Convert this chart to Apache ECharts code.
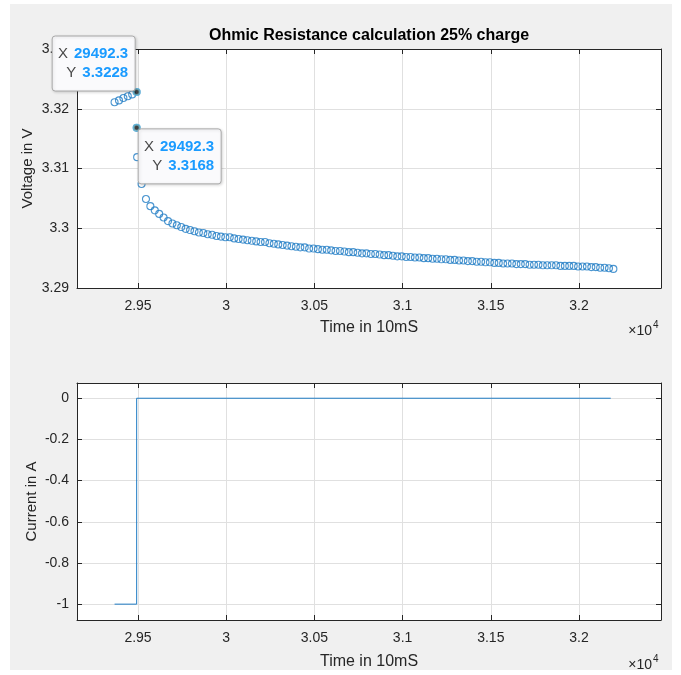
<!DOCTYPE html>
<html><head><meta charset="utf-8">
<script src="https://cdn.jsdelivr.net/npm/echarts@6/dist/echarts.min.js"></script>
<style>html,body{margin:0;padding:0;background:#fff}#c{width:681px;height:675px}</style>
</head><body><div id="c"></div>
<script>
// ---- data ----
const preTime = [29367, 29392, 29417, 29442, 29467, 29492.3];
const preVoltage = [3.3211, 3.3214, 3.3218, 3.3221, 3.3224, 3.3228];
const postTime = [29492.3,
  29495, 29520, 29545, 29570, 29595, 29620, 29645, 29670, 29695, 29720,
  29745, 29770, 29795, 29820, 29845, 29870, 29895, 29920, 29945, 29970,
  29995, 30020, 30045, 30070, 30095, 30120, 30145, 30170, 30195, 30220,
  30245, 30270, 30295, 30320, 30345, 30370, 30395, 30420, 30445, 30470,
  30495, 30520, 30545, 30570, 30595, 30620, 30645, 30670, 30695, 30720,
  30745, 30770, 30795, 30820, 30845, 30870, 30895, 30920, 30945, 30970,
  30995, 31020, 31045, 31070, 31095, 31120, 31145, 31170, 31195, 31220,
  31245, 31270, 31295, 31320, 31345, 31370, 31395, 31420, 31445, 31470,
  31495, 31520, 31545, 31570, 31595, 31620, 31645, 31670, 31695, 31720,
  31745, 31770, 31795, 31820, 31845, 31870, 31895, 31920, 31945, 31970,
  31995, 32020, 32045, 32070, 32095, 32120, 32145, 32170, 32195];
const postVoltage = [3.3168,
  3.3119, 3.3074, 3.3049, 3.3037, 3.3030, 3.3024, 3.3018, 3.3012, 3.3008, 3.3005,
  3.3002, 3.2999, 3.2997, 3.2995, 3.2993, 3.2992, 3.2990, 3.2989, 3.2987, 3.2986,
  3.2985, 3.2985, 3.2983, 3.2982, 3.2981, 3.2980, 3.2979, 3.2978, 3.2977, 3.2977,
  3.2975, 3.2974, 3.2973, 3.2972, 3.2971, 3.2970, 3.2969, 3.2968, 3.2968, 3.2966,
  3.2966, 3.2965, 3.2964, 3.2964, 3.2963, 3.2962, 3.2962, 3.2961, 3.2960, 3.2960,
  3.2959, 3.2958, 3.2958, 3.2957, 3.2957, 3.2956, 3.2955, 3.2955, 3.2954, 3.2953,
  3.2953, 3.2952, 3.2952, 3.2951, 3.2951, 3.2950, 3.2950, 3.2949, 3.2949, 3.2948,
  3.2948, 3.2947, 3.2947, 3.2946, 3.2946, 3.2945, 3.2945, 3.2944, 3.2944, 3.2943,
  3.2943, 3.2942, 3.2942, 3.2941, 3.2941, 3.2941, 3.2940, 3.2940, 3.2940, 3.2939,
  3.2939, 3.2939, 3.2938, 3.2938, 3.2938, 3.2938, 3.2937, 3.2937, 3.2937, 3.2937,
  3.2936, 3.2936, 3.2936, 3.2935, 3.2935, 3.2934, 3.2934, 3.2933, 3.2932];
const currentTime = [29367, 29492.3, 29492.3, 32180];
const currentValue = [-1, -1, 0, 0];
const titleText = 'Ohmic Resistance calculation 25% charge';
const xName = 'Time in 10mS';
const yNameTop = 'Voltage in V';
const yNameBottom = 'Current in A';

// ---- chart ----
const FONT = "'Liberation Sans', Arial, Helvetica, sans-serif";
const AX = '#262626';
const BLUE = '#1f7cc4';
const chart = echarts.init(document.getElementById('c'), null, {renderer: 'canvas'});

const voltagePts = [];
preTime.forEach((t, i) => voltagePts.push([t, preVoltage[i]]));
postTime.forEach((t, i) => voltagePts.push([t, postVoltage[i]]));
const currentPts = currentTime.map((t, i) => [t, currentValue[i]]);
const tipA = [preTime[preTime.length - 1], preVoltage[preVoltage.length - 1]];
const tipB = [postTime[0], postVoltage[0]];

const X_MIN = 29154, X_MAX = 32465;

function xAxis(gi, pos, main, nameGap) {
  return {
    type: 'value', gridIndex: gi, position: pos, min: X_MIN, max: X_MAX,
    name: main ? xName : '', nameLocation: 'middle', nameGap: nameGap,
    nameTextStyle: {color: AX, fontSize: 16, fontFamily: FONT},
    axisLine: {show: true, onZero: false, lineStyle: {color: AX, width: 1}},
    axisTick: {show: true, inside: true, length: 5, lineStyle: {color: AX}},
    axisLabel: {show: main, color: AX, fontSize: 14, fontFamily: FONT, margin: 11,
      showMinLabel: false, showMaxLabel: false,
      formatter: v => String(+(v / 1e4).toFixed(4))},
    splitLine: {show: main, lineStyle: {color: '#e0e0e0', width: 1}}
  };
}
function yAxis(gi, pos, main, opts) {
  return Object.assign({
    type: 'value', gridIndex: gi, position: pos,
    nameLocation: 'middle', nameRotate: 90, nameMoveOverlap: false,
    nameTextStyle: {color: AX, fontSize: 15, fontFamily: FONT},
    axisLine: {show: true, onZero: false, lineStyle: {color: AX, width: 1}},
    axisTick: {show: true, inside: true, length: 5, lineStyle: {color: AX}},
    axisLabel: {show: main, color: AX, fontSize: 14, fontFamily: FONT, margin: 8,
      showMinLabel: opts.showMinLabel, showMaxLabel: opts.showMaxLabel,
      formatter: v => String(+v.toFixed(2))},
    splitLine: {show: main, lineStyle: {color: '#e0e0e0', width: 1}}
  }, opts.extra);
}

chart.setOption({
  animation: false,
  backgroundColor: '#ffffff',
  title: {text: titleText, left: 369, top: 28, textAlign: 'center', padding: 0,
    textStyle: {color: '#000', fontSize: 16, fontWeight: 'bold', fontFamily: FONT}},
  grid: [
    {left: 77, top: 49, width: 584, height: 239, show: true, backgroundColor: '#fff', borderWidth: 0},
    {left: 77, top: 383, width: 584, height: 237, show: true, backgroundColor: '#fff', borderWidth: 0}
  ],
  xAxis: [
    xAxis(0, 'bottom', true, 32),
    xAxis(0, 'top', false, 0),
    xAxis(1, 'bottom', true, 34),
    xAxis(1, 'top', false, 0)
  ],
  yAxis: [
    yAxis(0, 'left', true, {showMinLabel: true, showMaxLabel: true,
      extra: {min: 3.29, max: 3.33, interval: 0.01, name: yNameTop, nameGap: 42}}),
    yAxis(0, 'right', false, {extra: {min: 3.29, max: 3.33, interval: 0.01}}),
    yAxis(1, 'left', true, {showMinLabel: false, showMaxLabel: false,
      extra: {min: -1.077, max: 0.074, name: yNameBottom, nameGap: 38}}),
    yAxis(1, 'right', false, {extra: {min: -1.077, max: 0.074}})
  ],
  series: [
    {type: 'scatter', xAxisIndex: 0, yAxisIndex: 0, data: voltagePts,
      symbol: 'circle', symbolSize: 7,
      itemStyle: {color: 'rgba(0,0,0,0)', borderColor: BLUE, borderWidth: 1.1},
      emphasis: {disabled: true}, silent: true},
    {type: 'scatter', xAxisIndex: 0, yAxisIndex: 0, data: [tipA, tipB],
      symbol: 'circle', symbolSize: 6, z: 5,
      itemStyle: {color: '#111', borderColor: 'rgba(120,205,225,0.75)', borderWidth: 2},
      silent: true},
    {type: 'line', xAxisIndex: 2, yAxisIndex: 2, data: currentPts,
      showSymbol: false, symbol: 'none',
      lineStyle: {color: BLUE, width: 1}, silent: true}
  ]
});

function tipGroup(left, top, pt) {
  const rich = {
    l: {fill: '#4a4a4a', fontSize: 15, fontFamily: FONT, padding: [0, 6, 0, 0]},
    v: {fill: '#1a9bff', fontSize: 15, fontWeight: 'bold', fontFamily: FONT}
  };
  return {
    type: 'group', x: left, y: top, z: 100,
    children: [
      {type: 'rect', z: 100, shape: {x: 0, y: 0, width: 83, height: 55, r: 3},
        style: {fill: '#fafafc', stroke: '#a9a9a9', lineWidth: 1,
          shadowBlur: 3, shadowColor: 'rgba(0,0,0,0.15)', shadowOffsetX: 1, shadowOffsetY: 1}},
      {type: 'text', z: 101, x: 76, y: 18, style: {text: '{l|X}{v|' + pt[0] + '}', rich,
        align: 'right', verticalAlign: 'middle'}},
      {type: 'text', z: 101, x: 76, y: 37, style: {text: '{l|Y}{v|' + pt[1] + '}', rich,
        align: 'right', verticalAlign: 'middle'}}
    ]
  };
}

const pA = chart.convertToPixel({gridIndex: 0}, tipA);
const pB = chart.convertToPixel({gridIndex: 0}, tipB);

function expLabel(y) {
  return [
    {type: 'text', x: 652, y: y, z: 50, style: {text: '\u00d710', fill: AX, fontSize: 14,
      fontFamily: FONT, align: 'right', verticalAlign: 'middle'}},
    {type: 'text', x: 653, y: y - 6, z: 50, style: {text: '4', fill: AX, fontSize: 10,
      fontFamily: FONT, align: 'left', verticalAlign: 'middle'}}
  ];
}

chart.setOption({
  graphic: [
    {type: 'rect', z: -10, silent: true, shape: {x: 10, y: 4, width: 662, height: 666},
      style: {fill: '#f0f0f0'}},
    tipGroup(pA[0] - 1.5 - 83, pA[1] - 1 - 55, tipA),
    tipGroup(pB[0] + 1.5, pB[1] + 1, tipB)
  ].concat(expLabel(331), expLabel(665))
});
</script></body></html>
